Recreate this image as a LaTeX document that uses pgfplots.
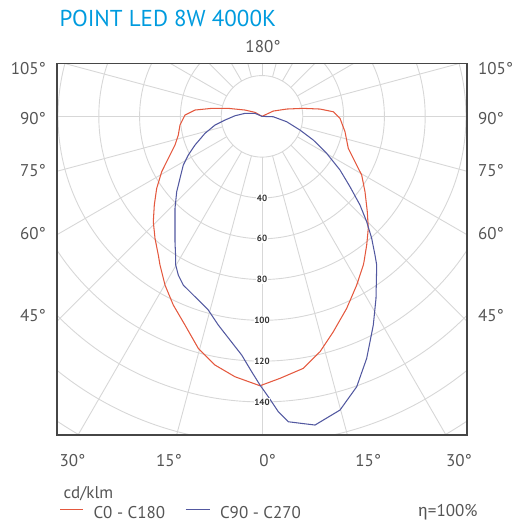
\documentclass[border=0pt]{standalone}
\usepackage{fontspec}
\setmainfont{PT Sans}
\newfontfamily\grk{Fira Sans}
\usepackage{pgfplots}
\pgfplotsset{compat=1.18}
\definecolor{titleblue}{RGB}{0,155,222}
\definecolor{txt}{RGB}{85,85,85}
\definecolor{gridc}{RGB}{215,215,215}
\definecolor{cred}{RGB}{228,88,62}
\definecolor{cblue}{RGB}{82,88,160}
\definecolor{framec}{RGB}{70,70,70}
\begin{document}
\begin{tikzpicture}
\useasboundingbox (0pt,0pt) rectangle (514pt,523pt);
\begin{axis}[at={(57pt,88pt)}, anchor=south west,
  x=2.04pt, y=2.04pt,
  xmin=-100.49, xmax=100.49, ymin=-156.2, ymax=26.1,
  xtick=\empty, ytick=\empty,
  axis line style={draw=framec, line width=1.1pt},
  axis on top, clip=true]
\pgfplotsinvokeforeach{20,40,60,80,100,120,140,160,180,200}{
  \draw[gridc, line width=0.9pt] (axis cs:0,0) circle[radius=#1];
}
\pgfplotsinvokeforeach{0,15,...,345}{
  \draw[gridc, line width=0.9pt] (axis cs:{20*cos(#1)},{20*sin(#1)}) -- (axis cs:{220*cos(#1)},{220*sin(#1)});
}
% C0 - C180
\addplot[cred, line width=1.05pt] coordinates {
(0,0) (-3.43,1.96) (-8.33,3.09) (-16.52,3.92) (-24.66,3.92) (-32.84,3.09)
(-37.75,0.64) (-40.20,-4.26) (-41.03,-9.17) (-42.65,-14.07) (-45.93,-20.59)
(-49.17,-27.16) (-51.62,-35.29) (-52.79,-43.48) (-53.28,-51.67) (-52.45,-59.80)
(-50.83,-67.99) (-50.0,-72.89) (-47.55,-82.70) (-43.48,-92.50) (-37.75,-102.30)
(-31.23,-113.73) (-23.04,-121.91) (-13.24,-127.65) (-0.98,-132.06)
(8.82,-128.43) (20.25,-123.53) (28.43,-115.39) (34.95,-105.59) (41.52,-94.12)
(46.42,-82.70) (49.66,-72.89) (50.0,-71.27) (51.32,-63.09) (52.11,-54.90)
(51.62,-46.76) (50.49,-36.96) (48.87,-28.77) (45.59,-22.25) (42.30,-15.69)
(40.69,-7.55) (38.24,-0.98) (34.95,2.25) (28.43,3.58) (20.25,3.92)
(12.11,3.58) (5.54,2.60) (0,0)
};
% C90 - C270
\addplot[cblue, line width=1.05pt] coordinates {
(0,0) (-3.43,1.47) (-8.33,1.47) (-13.24,0.29) (-18.14,-1.81) (-23.04,-4.26)
(-27.94,-8.33) (-32.84,-14.07) (-36.13,-18.97) (-38.58,-23.87) (-40.20,-30.39)
(-41.81,-36.96) (-42.65,-45.10) (-42.65,-53.28) (-42.65,-61.47) (-42.30,-69.61)
(-42.30,-72.89) (-41.03,-77.79) (-38.58,-82.70) (-32.84,-88.43) (-26.32,-94.95)
(-21.42,-102.30) (-15.69,-109.66) (-9.95,-117.01) (-5.05,-125.20) (-0.98,-131.72)
(3.09,-137.45) (7.99,-144.80) (12.89,-149.71) (25.98,-151.32) (38.24,-143.97)
(46.42,-132.55) (51.32,-118.63) (54.56,-102.30) (55.88,-89.22) (56.23,-72.89)
(55.39,-67.99) (53.77,-59.80) (51.32,-51.67) (48.04,-43.48) (43.14,-34.51)
(38.24,-26.32) (31.72,-18.14) (25.15,-11.62) (18.63,-6.72) (12.11,-2.65)
(5.54,-0.20) (0,0)
};
\pgfplotsinvokeforeach{40,60,80,100,120,140}{
  \node[fill=white, inner sep=0.8pt, text=black!80, font=\fontsize{9}{10}\selectfont\bfseries] at (axis cs:0,-#1) {#1};
}
\end{axis}
\begin{scope}[every node/.style={text=txt, font=\fontsize{17}{19}\selectfont}]
\node[anchor=base west, text=titleblue, font=\fontsize{23}{25}\selectfont] at (56pt,496pt) {POINT LED 8W 4000K};
\node[anchor=base] at (263pt,470pt) {180°};
\node[anchor=base east] at (49.5pt,448pt) {105°};
\node[anchor=base east] at (49.5pt,398pt) {90°};
\node[anchor=base east] at (49.5pt,346.3pt) {75°};
\node[anchor=base east] at (49.5pt,283pt) {60°};
\node[anchor=base east] at (49.5pt,201.3pt) {45°};
\node[anchor=base west] at (474.5pt,448pt) {105°};
\node[anchor=base west] at (474.5pt,398pt) {90°};
\node[anchor=base west] at (474.5pt,346.3pt) {75°};
\node[anchor=base west] at (474.5pt,283pt) {60°};
\node[anchor=base west] at (474.5pt,201.3pt) {45°};
\node[anchor=base] at (72.5pt,56.3pt) {30°};
\node[anchor=base] at (169pt,56.3pt) {15°};
\node[anchor=base] at (267.5pt,56.3pt) {0°};
\node[anchor=base] at (368.3pt,56.3pt) {15°};
\node[anchor=base] at (459pt,56.3pt) {30°};
\node[anchor=base west] at (60pt,24.7pt) {cd/klm};
\draw[cred, line width=1.3pt] (60pt,13.7pt) -- (83.3pt,13.7pt);
\node[anchor=base west] at (90pt,4.7pt) {C0 - C180};
\draw[cblue, line width=1.3pt] (185.7pt,13.7pt) -- (210pt,13.7pt);
\node[anchor=base west] at (216.5pt,4.7pt) {C90 - C270};
\node[anchor=base east] at (481pt,6pt) {{\grk η}=100\%};
\end{scope}
\end{tikzpicture}
\end{document}
